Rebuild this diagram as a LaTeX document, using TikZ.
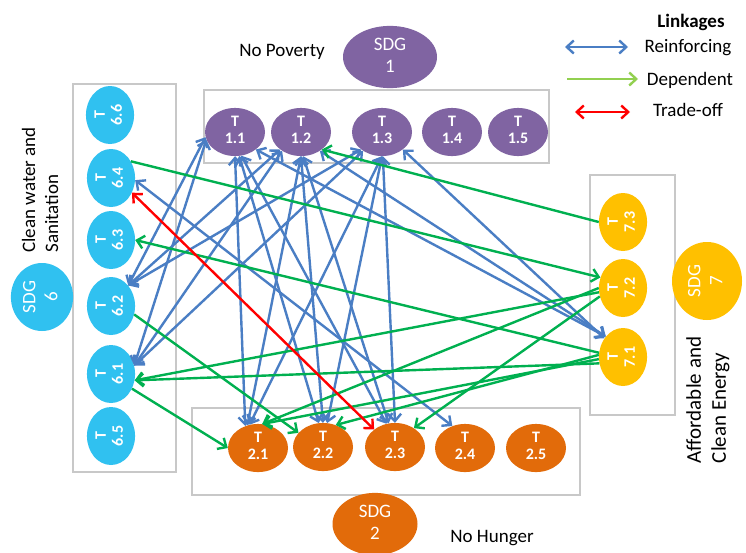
\documentclass[tikz,border=0pt]{standalone}
\usepackage{fontspec}
\usepackage{graphicx}
\setmainfont{Carlito}
\usetikzlibrary{arrows.meta,shapes.geometric}
\definecolor{sdgpurple}{HTML}{8064A2}
\definecolor{sdgblue}{HTML}{30C1F0}
\definecolor{sdgorange}{HTML}{E26B0A}
\definecolor{sdgyellow}{HTML}{FFC000}
\definecolor{reinf}{HTML}{4A7EC4}
\definecolor{depend}{HTML}{00B050}
\definecolor{legdep}{HTML}{92D050}
\definecolor{trade}{HTML}{FF0000}
\definecolor{boxgray}{HTML}{C8C8C8}
\newcommand{\tpair}[2]{\begin{tabular}{@{}c@{}}#1\\#2\end{tabular}}
\tikzset{
  tnode/.style={ellipse, draw=none, text=white, inner sep=0pt, font=\fontsize{16}{17}\selectfont\bfseries},
  htarget/.style={tnode, minimum width=60pt, minimum height=42pt},
  vtarget/.style={tnode, minimum width=44pt, minimum height=58pt},
  sdgnode/.style={ellipse, draw=none, text=white, inner sep=0pt, font=\fontsize{19}{22}\selectfont},
  grpbox/.style={draw=boxgray, line width=1.3pt},
  label/.style={font=\fontsize{19}{23}\selectfont, inner sep=0pt},
  barb/.tip={Straight Barb[length=7pt,width=13pt]},
  reinforcing/.style={draw=reinf, line width=2.4pt, barb-barb},
  dependent/.style={draw=depend, line width=2.4pt, -barb},
  tradeoff/.style={draw=trade, line width=2.4pt, barb-barb},
}
\begin{document}
\begin{tikzpicture}[x=1pt,y=-1pt]
\useasboundingbox (0,0) rectangle (746,552);
\fill[white] (0,0) rectangle (746,552);
% group boxes
\draw[grpbox] (204,90) rectangle (549,163);
\draw[grpbox] (73,84) rectangle (176,472);
\draw[grpbox] (590,175) rectangle (675,415);
\draw[grpbox] (192,408) rectangle (580,495);
% SDG 1
\node[sdgnode, fill=sdgpurple, minimum width=94pt, minimum height=62pt] (S1) at (390,57) {\tpair{SDG}{1}};
\node[label] (L1) at (282,52) {No Poverty};
\node[htarget, fill=sdgpurple] (T11) at (235,132) {\tpair{T}{1.1}};
\node[htarget, fill=sdgpurple] (T12) at (301,132) {\tpair{T}{1.2}};
\node[htarget, fill=sdgpurple] (T13) at (382,132) {\tpair{T}{1.3}};
\node[htarget, fill=sdgpurple] (T14) at (452,132) {\tpair{T}{1.4}};
\node[htarget, fill=sdgpurple] (T15) at (518,132) {\tpair{T}{1.5}};
% SDG 2
\node[sdgnode, fill=sdgorange, minimum width=85pt, minimum height=58pt] (S2) at (375,524) {\tpair{SDG}{2}};
\node[label] (L2) at (492,538) {No Hunger};
\node[htarget, fill=sdgorange] (T21) at (258,448) {\tpair{T}{2.1}};
\node[htarget, fill=sdgorange] (T22) at (323,447) {\tpair{T}{2.2}};
\node[htarget, fill=sdgorange] (T23) at (395,447) {\tpair{T}{2.3}};
\node[htarget, fill=sdgorange] (T24) at (465,448) {\tpair{T}{2.4}};
\node[htarget, fill=sdgorange] (T25) at (536,448) {\tpair{T}{2.5}};
% SDG 6
\node[sdgnode, fill=sdgblue, minimum width=60pt, minimum height=68pt] (S6) at (42,297) {\rotatebox{90}{\tpair{SDG}{6}}};
\node[label, rotate=90, align=left] (L6) at (40,190) {Clean water and\\Sanitation};
\node[vtarget, fill=sdgblue] (T66) at (110,115) {\rotatebox{90}{\tpair{T}{6.6}}};
\node[vtarget, fill=sdgblue] (T64) at (111,178) {\rotatebox{90}{\tpair{T}{6.4}}};
\node[vtarget, fill=sdgblue] (T63) at (111,240) {\rotatebox{90}{\tpair{T}{6.3}}};
\node[vtarget, fill=sdgblue] (T62) at (111,306) {\rotatebox{90}{\tpair{T}{6.2}}};
\node[vtarget, fill=sdgblue] (T61) at (111,374) {\rotatebox{90}{\tpair{T}{6.1}}};
\node[vtarget, fill=sdgblue] (T65) at (111,436) {\rotatebox{90}{\tpair{T}{6.5}}};
% SDG 7
\node[sdgnode, fill=sdgyellow, minimum width=70pt, minimum height=78pt] (S7) at (707,281) {\rotatebox{90}{\tpair{SDG}{7}}};
\node[label, font=\fontsize{21}{25}\selectfont, rotate=90, align=left] (L7) at (708,400) {Affordable and\\Clean Energy};
\node[vtarget, fill=sdgyellow] (T73) at (623,222) {\rotatebox{90}{\tpair{T}{7.3}}};
\node[vtarget, fill=sdgyellow] (T72) at (623,288) {\rotatebox{90}{\tpair{T}{7.2}}};
\node[vtarget, fill=sdgyellow] (T71) at (623,357) {\rotatebox{90}{\tpair{T}{7.1}}};
% reinforcing links
\draw[reinforcing] (T11.south) -- (T21.120);
\draw[reinforcing] (T11.-80) -- (T22.100);
\draw[reinforcing] (T11.-75) -- (T23.110);
\draw[reinforcing] (T11.190) -- (T62.50);
\draw[reinforcing] (T11.195) -- (T61.20);
\draw[reinforcing] (T11.-40) -- (T71.130);
\draw[reinforcing] (T12.south) -- (T21.115);
\draw[reinforcing] (T12.south) -- (T22.north);
\draw[reinforcing] (T12.-85) -- (T23.105);
\draw[reinforcing] (T12.220) -- (T62.50);
\draw[reinforcing] (T12.225) -- (T61.20);
\draw[reinforcing] (T12.-45) -- (T71.130);
\draw[reinforcing] (T13.south) -- (T21.110);
\draw[reinforcing] (T13.south) -- (T22.80);
\draw[reinforcing] (T13.-88) -- (T23.north);
\draw[reinforcing] (T13.220) -- (T62.50);
\draw[reinforcing] (T13.225) -- (T61.20);
\draw[reinforcing] (T13.-40) -- (T71.135);
\draw[reinforcing] (T64.-5) -- (T24.120);
% dependent links
\draw[dependent] (T73.west) -- (T12.-40);
\draw[dependent] (T64.40) -- (T72.155);
\draw[dependent] (T71.170) -- (T63.east);
\draw[dependent] (T62.-20) -- (T22.150);
\draw[dependent] (T61.-35) -- (T21.west);
\draw[dependent] (T72.190) -- (T61.-15);
\draw[dependent] (T71.195) -- (T61.-15);
\draw[dependent] (T72.180) -- (T21.80);
\draw[dependent] (T71.185) -- (T21.80);
\draw[dependent] (T71.175) -- (T22.60);
\draw[dependent] (T72.200) -- (T23.45);
% trade-off link
\draw[tradeoff] (T64.-35) -- (T23.140);
% legend
\node[label, font=\fontsize{19}{23}\selectfont\bfseries] (LK) at (691,22) {Linkages};
\coordinate (rb1) at (565,47);
\coordinate (rb2) at (628,47);
\draw[reinforcing] (rb1) -- (rb2);
\node[label] (LR) at (688,48) {Reinforcing};
\coordinate (gb1) at (567,79);
\coordinate (gb2) at (638,79);
\draw[dependent, draw=legdep] (gb1) -- (gb2);
\node[label] (LD) at (690,80) {Dependent};
\coordinate (tb1) at (575,112);
\coordinate (tb2) at (630,112);
\draw[tradeoff] (tb1) -- (tb2);
\node[label] (LT) at (688,110) {Trade-off};
\end{tikzpicture}
\end{document}
